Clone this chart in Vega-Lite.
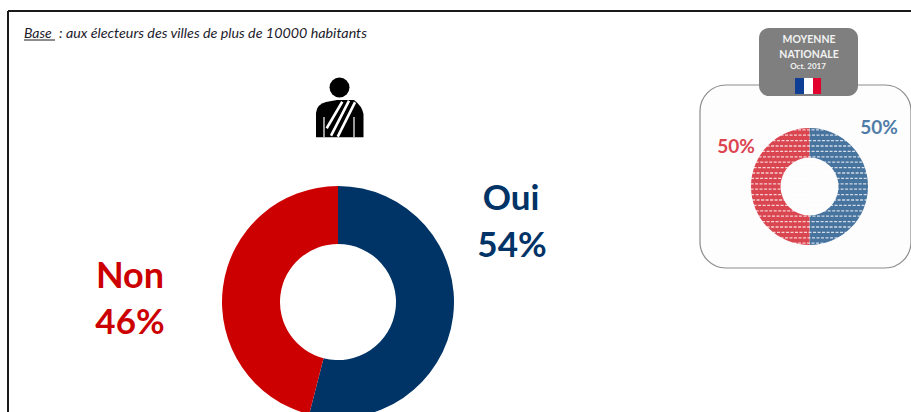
{
"$schema":"https://vega.github.io/schema/vega-lite/v6.json",
"autosize":{"type":"fit","contains":"padding"},
"width":911,"height":412,"padding":0,"background":"white",
"config":{"view":{"stroke":null},"text":{"font":"Lato"}},
"datasets":{
"local":[{"reponse":"Oui","part":54,"rang":1},{"reponse":"Non","part":46,"rang":2}],
"national":[{"reponse":"Oui","part":50,"rang":1},{"reponse":"Non","part":50,"rang":2}]
},
"layer":[
{"data":{"values":[{"k":1}]},"mark":{"type":"rule","stroke":"#1a1a1a","strokeWidth":2},
 "encoding":{"x":{"datum":8,"type":"quantitative","scale":{"domain":[0,911],"range":[0,911]},"axis":null},"y":{"datum":11,"type":"quantitative","scale":{"domain":[0,412],"range":[0,412]},"axis":null},"y2":{"datum":412}}},
{"data":{"values":[{"k":1}]},"mark":{"type":"rule","stroke":"#1a1a1a","strokeWidth":2},
 "encoding":{"x":{"datum":8,"type":"quantitative","scale":{"domain":[0,911],"range":[0,911]},"axis":null},"x2":{"datum":911},"y":{"datum":11,"type":"quantitative","scale":{"domain":[0,412],"range":[0,412]},"axis":null}}},
{"data":{"values":[{"t":"Base"}]},"mark":{"type":"text","fontStyle":"italic","fontSize":14,"align":"left","baseline":"alphabetic","color":"#1c1c2c"},
 "encoding":{"text":{"field":"t"},"x":{"datum":24,"type":"quantitative","scale":{"domain":[0,911],"range":[0,911]},"axis":null},"y":{"datum":38,"type":"quantitative","scale":{"domain":[0,412],"range":[0,412]},"axis":null}}},
{"data":{"values":[{"t":": aux électeurs des villes de plus de 10000 habitants"}]},"mark":{"type":"text","fontStyle":"italic","fontSize":14.3,"align":"left","baseline":"alphabetic","color":"#1c1c2c"},
 "encoding":{"text":{"field":"t"},"x":{"datum":59,"type":"quantitative","scale":{"domain":[0,911],"range":[0,911]},"axis":null},"y":{"datum":38,"type":"quantitative","scale":{"domain":[0,412],"range":[0,412]},"axis":null}}},
{"data":{"values":[{"k":1}]},"mark":{"type":"rule","stroke":"#1a1a1a","strokeWidth":1},
 "encoding":{"x":{"datum":24,"type":"quantitative","scale":{"domain":[0,911],"range":[0,911]},"axis":null},"x2":{"datum":55},"y":{"datum":40,"type":"quantitative","scale":{"domain":[0,412],"range":[0,412]},"axis":null}}},
{"data":{"values":[{"k":1}]},"mark":{"type":"point","filled":true,"size":4,"color":"black","opacity":1,"shape":"M-24 19.3 L-24 -5 Q-23 -14 -14 -16 L-3 -18 L14 -18 Q22 -12 23.5 -4 L23.5 19.3 Z"},
 "encoding":{"x":{"datum":340,"type":"quantitative","scale":{"domain":[0,911],"range":[0,911]},"axis":null},"y":{"datum":118,"type":"quantitative","scale":{"domain":[0,412],"range":[0,412]},"axis":null}}},
{"data":{"values":[{"k":1}]},"mark":{"type":"point","filled":true,"size":4,"color":"white","opacity":1,"shape":"M1.2 -17 L3.4 -15.6 L-12.2 11 L-14.4 9.6 Z M7.9 -18 L10.1 -16.6 L-7.9 18.4 L-10.1 17 Z M13.9 -16.4 L16.1 -15 L-1.2 19.4 L-3.4 18 Z M-16.6 -1 L-15.4 -1 L-15.4 19.3 L-16.6 19.3 Z M13.4 -1 L14.6 -1 L14.6 19.3 L13.4 19.3 Z"},
 "encoding":{"x":{"datum":340,"type":"quantitative","scale":{"domain":[0,911],"range":[0,911]},"axis":null},"y":{"datum":118,"type":"quantitative","scale":{"domain":[0,412],"range":[0,412]},"axis":null}}},
{"data":{"values":[{"k":1}]},"mark":{"type":"point","filled":true,"size":400,"shape":"circle","color":"black","opacity":1},
 "encoding":{"x":{"datum":339.5,"type":"quantitative","scale":{"domain":[0,911],"range":[0,911]},"axis":null},"y":{"datum":87.5,"type":"quantitative","scale":{"domain":[0,412],"range":[0,412]},"axis":null}}},
{"data":{"name":"local"},"mark":{"type":"arc","radius":116,"radius2":58},
 "encoding":{"theta":{"field":"part","type":"quantitative","stack":true,"scale":{"domain":[0,100]}},"order":{"field":"rang"},
 "color":{"field":"reponse","type":"nominal","legend":null,"scale":{"domain":["Oui","Non"],"range":["#003366","#cc0000"]}},
 "x":{"datum":338,"type":"quantitative","scale":{"domain":[0,911],"range":[0,911]},"axis":null},"y":{"datum":302,"type":"quantitative","scale":{"domain":[0,412],"range":[0,412]},"axis":null}}},
{"data":{"values":[{"t":"Oui"}]},"mark":{"type":"text","fontSize":35,"fontWeight":"bold","color":"#003366"},
 "encoding":{"text":{"field":"t"},"x":{"datum":511,"type":"quantitative","scale":{"domain":[0,911],"range":[0,911]},"axis":null},"y":{"datum":199,"type":"quantitative","scale":{"domain":[0,412],"range":[0,412]},"axis":null}}},
{"data":{"values":[{"t":"54%"}]},"mark":{"type":"text","fontSize":35,"fontWeight":"bold","color":"#003366"},
 "encoding":{"text":{"field":"t"},"x":{"datum":512,"type":"quantitative","scale":{"domain":[0,911],"range":[0,911]},"axis":null},"y":{"datum":246,"type":"quantitative","scale":{"domain":[0,412],"range":[0,412]},"axis":null}}},
{"data":{"values":[{"t":"Non"}]},"mark":{"type":"text","fontSize":36,"fontWeight":"bold","color":"#cc0000"},
 "encoding":{"text":{"field":"t"},"x":{"datum":130,"type":"quantitative","scale":{"domain":[0,911],"range":[0,911]},"axis":null},"y":{"datum":277,"type":"quantitative","scale":{"domain":[0,412],"range":[0,412]},"axis":null}}},
{"data":{"values":[{"t":"46%"}]},"mark":{"type":"text","fontSize":35,"fontWeight":"bold","color":"#cc0000"},
 "encoding":{"text":{"field":"t"},"x":{"datum":130,"type":"quantitative","scale":{"domain":[0,911],"range":[0,911]},"axis":null},"y":{"datum":323,"type":"quantitative","scale":{"domain":[0,412],"range":[0,412]},"axis":null}}},
{"data":{"values":[{"k":1}]},"mark":{"type":"rect","fill":"#fdfdfd","stroke":"#8c8c8c","strokeWidth":1.2,"cornerRadius":26},
 "encoding":{"x":{"datum":700,"type":"quantitative","scale":{"domain":[0,911],"range":[0,911]},"axis":null},"x2":{"datum":911},"y":{"datum":85,"type":"quantitative","scale":{"domain":[0,412],"range":[0,412]},"axis":null},"y2":{"datum":268}}},
{"data":{"values":[{"k":1}]},"mark":{"type":"rect","fill":"#7f7f7f","cornerRadius":10},
 "encoding":{"x":{"datum":759,"type":"quantitative","scale":{"domain":[0,911],"range":[0,911]},"axis":null},"x2":{"datum":858},"y":{"datum":28,"type":"quantitative","scale":{"domain":[0,412],"range":[0,412]},"axis":null},"y2":{"datum":96}}},
{"data":{"values":[{"t":"MOYENNE"}]},"mark":{"type":"text","fontSize":10.5,"fontWeight":"bold","color":"#f2f2f2"},
 "encoding":{"text":{"field":"t"},"x":{"datum":809,"type":"quantitative","scale":{"domain":[0,911],"range":[0,911]},"axis":null},"y":{"datum":40,"type":"quantitative","scale":{"domain":[0,412],"range":[0,412]},"axis":null}}},
{"data":{"values":[{"t":"NATIONALE"}]},"mark":{"type":"text","fontSize":10.5,"fontWeight":"bold","color":"#f2f2f2"},
 "encoding":{"text":{"field":"t"},"x":{"datum":809,"type":"quantitative","scale":{"domain":[0,911],"range":[0,911]},"axis":null},"y":{"datum":55,"type":"quantitative","scale":{"domain":[0,412],"range":[0,412]},"axis":null}}},
{"data":{"values":[{"t":"Oct. 2017"}]},"mark":{"type":"text","fontSize":8,"fontWeight":"bold","color":"#f2f2f2"},
 "encoding":{"text":{"field":"t"},"x":{"datum":808,"type":"quantitative","scale":{"domain":[0,911],"range":[0,911]},"axis":null},"y":{"datum":67,"type":"quantitative","scale":{"domain":[0,412],"range":[0,412]},"axis":null}}},
{"data":{"values":[{"k":1}]},"mark":{"type":"rect","fill":"#0f3f94"},
 "encoding":{"x":{"datum":795,"type":"quantitative","scale":{"domain":[0,911],"range":[0,911]},"axis":null},"x2":{"datum":804},"y":{"datum":78,"type":"quantitative","scale":{"domain":[0,412],"range":[0,412]},"axis":null},"y2":{"datum":94}}},
{"data":{"values":[{"k":1}]},"mark":{"type":"rect","fill":"#ffffff"},
 "encoding":{"x":{"datum":804,"type":"quantitative","scale":{"domain":[0,911],"range":[0,911]},"axis":null},"x2":{"datum":813},"y":{"datum":78,"type":"quantitative","scale":{"domain":[0,412],"range":[0,412]},"axis":null},"y2":{"datum":94}}},
{"data":{"values":[{"k":1}]},"mark":{"type":"rect","fill":"#e2002d"},
 "encoding":{"x":{"datum":813,"type":"quantitative","scale":{"domain":[0,911],"range":[0,911]},"axis":null},"x2":{"datum":821},"y":{"datum":78,"type":"quantitative","scale":{"domain":[0,412],"range":[0,412]},"axis":null},"y2":{"datum":94}}},
{"data":{"name":"national"},"mark":{"type":"arc","radius":58.5,"radius2":29},
 "encoding":{"theta":{"field":"part","type":"quantitative","stack":true,"scale":{"domain":[0,100]}},"order":{"field":"rang"},
 "fill":{"field":"reponse","type":"nominal","legend":null,"scale":{"domain":["Oui","Non"],"range":["#47739f","#da4650"]}},
 "x":{"datum":809.5,"type":"quantitative","scale":{"domain":[0,911],"range":[0,911]},"axis":null},"y":{"datum":186.5,"type":"quantitative","scale":{"domain":[0,412],"range":[0,412]},"axis":null}}},
{"data":{"values":[{"k":1}]},"mark":{"type":"point","filled":false,"size":4,"stroke":"#ffffff","strokeWidth":1.3,"strokeOpacity":0.75,"opacity":1,"strokeDash":[3,1.5],"shape":"M-58.9 2.7 H58.9 M-58.9 -2.7 H58.9 M-58.4 8.1 H58.4 M-58.4 -8.1 H58.4 M-57.4 13.5 H57.4 M-57.4 -13.5 H57.4 M-55.9 18.9 H55.9 M-55.9 -18.9 H55.9 M-53.8 24.3 H53.8 M-53.8 -24.3 H53.8 M-51 29.7 H51 M-51 -29.7 H51 M-47.4 35.1 H47.4 M-47.4 -35.1 H47.4 M-42.9 40.5 H42.9 M-42.9 -40.5 H42.9 M-37 45.9 H37 M-37 -45.9 H37 M-29 51.3 H29 M-29 -51.3 H29 M-16 56.7 H16 M-16 -56.7 H16"},
 "encoding":{"x":{"datum":809.5,"type":"quantitative","scale":{"domain":[0,911],"range":[0,911]},"axis":null},"y":{"datum":186.5,"type":"quantitative","scale":{"domain":[0,412],"range":[0,412]},"axis":null}}},
{"data":{"values":[{"t":"50%"}]},"mark":{"type":"text","fontSize":19,"fontWeight":"bold","color":"#4f7ca8"},
 "encoding":{"text":{"field":"t"},"x":{"datum":879,"type":"quantitative","scale":{"domain":[0,911],"range":[0,911]},"axis":null},"y":{"datum":128,"type":"quantitative","scale":{"domain":[0,412],"range":[0,412]},"axis":null}}},
{"data":{"values":[{"t":"50%"}]},"mark":{"type":"text","fontSize":19,"fontWeight":"bold","color":"#dc4450"},
 "encoding":{"text":{"field":"t"},"x":{"datum":736,"type":"quantitative","scale":{"domain":[0,911],"range":[0,911]},"axis":null},"y":{"datum":147,"type":"quantitative","scale":{"domain":[0,412],"range":[0,412]},"axis":null}}}
],
"resolve":{"scale":{"color":"independent","fill":"independent"}}
}
